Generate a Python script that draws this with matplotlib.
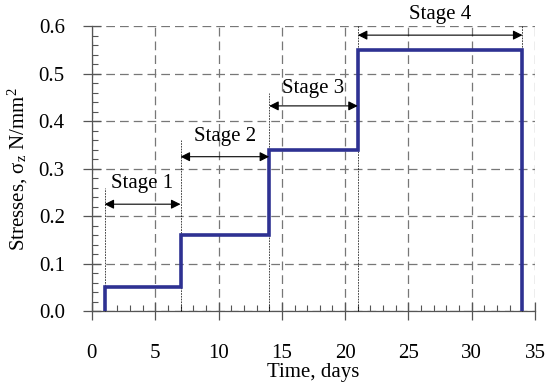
import matplotlib
matplotlib.use("Agg")
import matplotlib.pyplot as plt
from matplotlib.ticker import MultipleLocator, FormatStrFormatter

# step history of applied stress
step_days = [1, 7, 14, 21, 34]
step_stress = [0.05, 0.16, 0.34, 0.55]

# stage annotations: label, arrow height, text height
stage_labels = ["Stage 1", "Stage 2", "Stage 3", "Stage 4"]
stage_arrow_y = [0.225, 0.325, 0.432, 0.581]
stage_text_y = [0.268, 0.367, 0.468, 0.625]
guide_top = [0.26, 0.36, 0.46, 0.60, 0.60]

plt.rcParams["font.family"] = ["Liberation Serif", "DejaVu Serif"]
plt.rcParams["mathtext.fontset"] = "stix"

fig = plt.figure(figsize=(5.5, 3.84), dpi=100)
ax = fig.add_axes([0.167, 0.19, 0.806, 0.742])

# build the step line
xs = [step_days[0]]
ys = [0.0]
for i, s in enumerate(step_stress):
    xs += [step_days[i], step_days[i + 1]]
    ys += [s, s]
xs.append(step_days[-1])
ys.append(0.0)
ax.plot(xs, ys, color="#2E3192", lw=2.6, zorder=4, solid_joinstyle="miter")

# vertical guide lines
for x, top in zip(step_days, guide_top):
    ax.plot([x, x], [0, top], color="black", lw=0.5, ls=(0, (2.5, 1.5)),
            zorder=3, clip_on=False)

# stage arrows + labels
for i, lab in enumerate(stage_labels):
    x0, x1 = step_days[i], step_days[i + 1]
    ax.annotate("", xy=(x0, stage_arrow_y[i]), xytext=(x1, stage_arrow_y[i]),
                arrowprops=dict(arrowstyle="<|-|>", color="black", lw=0.8,
                                shrinkA=0, shrinkB=0, mutation_scale=14),
                zorder=5, annotation_clip=False)
    ax.text((x0 + x1) / 2, stage_text_y[i], lab, ha="center", va="center",
            fontsize=15, zorder=5, clip_on=False)

ax.set_xlim(0, 35)
ax.set_ylim(0, 0.6)
ax.xaxis.set_major_locator(MultipleLocator(5))
ax.xaxis.set_minor_locator(MultipleLocator(1))
ax.yaxis.set_major_locator(MultipleLocator(0.1))
ax.yaxis.set_minor_locator(MultipleLocator(0.02))
ax.yaxis.set_major_formatter(FormatStrFormatter("%.1f"))

ax.grid(True, which="major", color="#777777", lw=0.9, ls=(0, (7, 4)))
for s in ["top", "right"]:
    ax.spines[s].set_visible(False)
for s in ["left", "bottom"]:
    ax.spines[s].set_color("#555555")
    ax.spines[s].set_linewidth(0.9)

ax.tick_params(which="major", direction="inout", length=13, width=0.9,
               color="#555555", labelsize=15)
ax.tick_params(axis="x", which="major", pad=17)
ax.tick_params(axis="y", which="major", pad=13)
ax.tick_params(which="minor", direction="in", length=4, width=0.8,
               color="#555555")

ax.set_xlabel("Time, days", fontsize=15, labelpad=0)
ax.set_ylabel(r"Stresses, σ$_{\mathregular{z}}$ N/mm$^{\mathregular{2}}$",
              fontsize=15, labelpad=6)

fig.savefig("out.png", dpi=100)
